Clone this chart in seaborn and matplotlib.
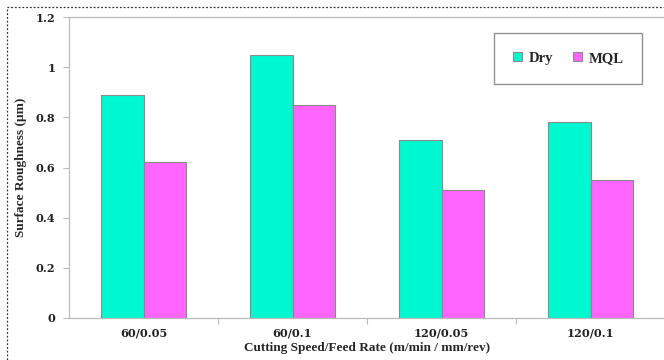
import matplotlib
matplotlib.use("Agg")
import matplotlib.pyplot as plt
import seaborn as sns
import pandas as pd
from matplotlib.patches import Rectangle

categories = ["60/0.05", "60/0.1", "120/0.05", "120/0.1"]
dry = [0.89, 1.05, 0.71, 0.78]
mql = [0.62, 0.85, 0.51, 0.55]
series = ["Dry", "MQL"]
yticks = [0, 0.2, 0.4, 0.6, 0.8, 1, 1.2]
ytick_labels = ["0", "0.2", "0.4", "0.6", "0.8", "1", "1.2"]

df = pd.DataFrame({
    "cat": categories * 2,
    "val": dry + mql,
    "series": [series[0]] * len(categories) + [series[1]] * len(categories),
})

sns.set_style("white")
fig = plt.figure(figsize=(6.64, 3.6), dpi=100)
ax = fig.add_axes([69 / 664, 42 / 360, 596 / 664, 301 / 360])

palette = {"Dry": "#00F8D0", "MQL": "#FF66FF"}
sns.barplot(data=df, x="cat", y="val", hue="series", palette=palette,
            width=0.565, edgecolor="#8a8a8a", linewidth=0.8, ax=ax,
            saturation=1, legend=True)

ax.set_ylim(0, 1.2)
ax.set_xlim(-0.5, 3.5)
ax.set_yticks(yticks)
ax.set_yticklabels(ytick_labels)
for lab in ax.get_yticklabels() + ax.get_xticklabels():
    lab.set_fontfamily("DejaVu Serif")
    lab.set_fontweight("bold")
    lab.set_fontsize(8.2)
    lab.set_color("#222222")

ax.tick_params(axis="y", which="major", length=4, width=0.8, color="#bbbbbb", pad=6, left=True)
ax.tick_params(axis="x", which="major", length=0, pad=7)
ax.set_xticks([0.5, 1.5, 2.5], minor=True)
ax.tick_params(axis="x", which="minor", length=4, width=0.8, color="#bbbbbb", bottom=True)

for s in ["left", "bottom", "top"]:
    ax.spines[s].set_color("#bbbbbb")
    ax.spines[s].set_linewidth(0.9)
    ax.spines[s].set_visible(True)
ax.spines["right"].set_visible(False)

ax.set_xlabel("Cutting Speed/Feed Rate (m/min / mm/rev)", family="Liberation Serif",
              fontweight="bold", fontsize=9.5, labelpad=2)
ax.set_ylabel("Surface Roughness (µm)", family="Liberation Serif",
              fontweight="bold", fontsize=9.5, labelpad=6)

handles, labels = ax.get_legend_handles_labels()
leg = ax.legend(handles, labels, loc="upper left", bbox_to_anchor=((494 - 69) / 596, 1 - 16 / 301),
                borderaxespad=0, ncol=2, frameon=True, fancybox=False,
                handlelength=0.6, handleheight=0.6,
                columnspacing=1.4, handletextpad=0.45, borderpad=1.3,
                prop={"family": "Liberation Serif", "weight": "bold", "size": 10.5})
leg.get_frame().set_edgecolor("#777777")
leg.get_frame().set_linewidth(1.0)

fig.patches.append(Rectangle((7 / 664, -0.05), 1.0, 1 - 7 / 360 + 0.05, transform=fig.transFigure,
                             fill=False, linestyle=(0, (1.5, 1.5)), edgecolor="#333333", linewidth=0.9))

fig.savefig("out.png", dpi=100)
